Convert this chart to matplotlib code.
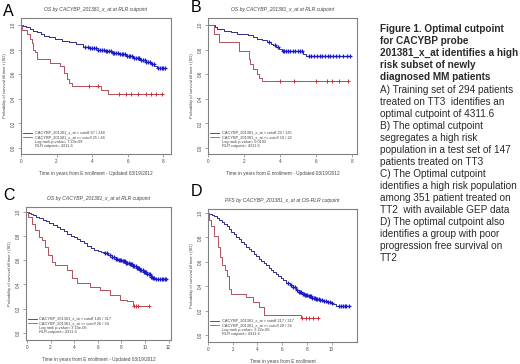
import numpy as np
import matplotlib
matplotlib.use("Agg")
import matplotlib.pyplot as plt

plt.rcParams['font.family'] = ['Liberation Sans', 'DejaVu Sans']

# ---------------- data ----------------
# Panel A
a_blue_t = [0.1, 0.3, 0.5, 0.7, 0.9, 1.1, 1.3, 1.6, 1.9, 2.3, 2.7, 3.1, 3.5, 3.9, 4.3, 4.7, 5.1, 5.5, 5.9, 6.3, 6.7, 7.0, 7.3, 7.5, 7.65]
a_blue_s = [0.99, 0.98, 0.97, 0.955, 0.94, 0.925, 0.91, 0.9, 0.885, 0.872, 0.86, 0.845, 0.825, 0.81, 0.797, 0.787, 0.775, 0.765, 0.752, 0.735, 0.718, 0.70, 0.685, 0.665, 0.648]
a_blue_end = 8.1
a_blue_cens = [3.6, 3.75, 3.9, 4.0, 4.1, 4.2, 4.35, 4.45, 4.55, 4.65, 4.75, 4.85, 4.95, 5.05, 5.15, 5.25, 5.35, 5.45, 5.55, 5.65, 5.75, 5.85, 5.95, 6.05, 6.15, 6.25, 6.35, 6.45, 6.55, 6.65, 6.75, 6.85, 6.95, 7.05, 7.15, 7.25, 7.35, 7.45, 7.7, 7.8, 7.9, 8.0, 8.1]
a_red_t = [0.05, 0.35, 0.5, 0.6, 0.7, 0.8, 0.9, 1.65, 2.2, 2.4, 2.6, 2.7, 2.85, 4.5, 4.9]
a_red_s = [0.96, 0.93, 0.89, 0.85, 0.80, 0.78, 0.72, 0.69, 0.67, 0.61, 0.56, 0.53, 0.50, 0.47, 0.435]
a_red_end = 7.9
a_red_cens = [3.8, 4.3, 5.5, 5.9, 6.2, 6.6, 7.0, 7.3, 7.6, 7.9]

# Panel B
b_blue_t = [0.4, 0.5, 0.9, 1.3, 1.6, 2.2, 2.5, 2.7, 3.0, 3.3, 3.5, 3.6, 3.8, 3.95, 4.1, 5.3, 5.45]
b_blue_s = [0.987, 0.965, 0.95, 0.94, 0.93, 0.915, 0.9, 0.89, 0.875, 0.86, 0.845, 0.835, 0.82, 0.805, 0.79, 0.765, 0.745]
b_blue_end = 7.9
b_blue_cens = [3.4, 3.7, 3.9, 4.15, 4.25, 4.35, 4.45, 4.55, 4.7, 4.85, 5.0, 5.1, 5.2, 5.6, 5.75, 5.9, 6.05, 6.2, 6.35, 6.5, 6.65, 6.8, 6.95, 7.1, 7.3, 7.5, 7.7, 7.9]
b_red_t = [0.35, 0.6, 1.7, 2.3, 2.35, 2.5, 2.7, 2.85, 3.0]
b_red_s = [0.93, 0.86, 0.79, 0.72, 0.68, 0.64, 0.60, 0.57, 0.545]
b_red_end = 7.8
b_red_cens = [4.0, 4.8, 6.0, 6.6, 6.9, 7.3, 7.8]

# Panel C
c_blue_t = [0.15, 0.35, 0.55, 0.8, 1.05, 1.35, 1.6, 1.9, 2.2, 2.5, 2.8, 3.1, 3.4, 3.7, 3.95, 4.2, 4.5, 4.8, 5.1, 5.4, 5.7, 6.0, 6.3, 6.6, 6.9, 7.2, 7.5, 7.8, 8.1, 8.4, 8.7, 9.0, 9.3, 9.6, 9.9, 10.2, 10.5, 10.7, 10.9]
c_blue_s = [0.99, 0.98, 0.97, 0.96, 0.945, 0.93, 0.92, 0.905, 0.89, 0.875, 0.858, 0.84, 0.82, 0.80, 0.788, 0.775, 0.755, 0.74, 0.72, 0.70, 0.688, 0.678, 0.668, 0.656, 0.64, 0.625, 0.612, 0.60, 0.59, 0.578, 0.565, 0.55, 0.535, 0.52, 0.50, 0.485, 0.465, 0.45, 0.445]
c_blue_end = 11.8
c_blue_cens = [6.6, 6.8, 7.0, 7.2, 7.35, 7.5, 7.65, 7.8, 7.9, 8.0, 8.1, 8.2, 8.3, 8.4, 8.5, 8.6, 8.7, 8.8, 8.9, 9.0, 9.1, 9.2, 9.3, 9.4, 9.5, 9.6, 9.7, 9.8, 9.9, 10.0, 10.1, 10.2, 10.3, 10.4, 10.5, 10.6, 10.7, 10.8, 10.95, 11.1, 11.25, 11.4, 11.55, 11.7, 11.8]
c_red_t = [0.1, 0.4, 0.7, 1.0, 1.24, 1.5, 1.8, 2.1, 2.4, 3.4, 3.8, 4.2, 5.3, 6.2, 7.0, 7.9, 8.45, 9.0]
c_red_s = [0.955, 0.90, 0.85, 0.79, 0.77, 0.71, 0.64, 0.587, 0.56, 0.52, 0.45, 0.41, 0.38, 0.355, 0.31, 0.27, 0.26, 0.22]
c_red_end = 10.3
c_red_cens = [9.1, 9.25, 9.4, 10.3]

# Panel D
d_blue_t = [0.1, 0.3, 0.5, 0.7, 0.9, 1.1, 1.3, 1.5, 1.7, 1.9, 2.1, 2.3, 2.5, 2.7, 2.9, 3.1, 3.3, 3.5, 3.7, 3.9, 4.1, 4.3, 4.5, 4.7, 4.9, 5.1, 5.3, 5.5, 5.7, 5.9, 6.1, 6.35, 6.6, 6.85, 7.1, 7.35, 7.6, 7.85, 8.1, 8.4, 8.7, 9.0, 9.3, 9.6, 9.9, 10.1, 10.4, 10.5]
d_blue_s = [0.995, 0.985, 0.972, 0.96, 0.945, 0.93, 0.912, 0.89, 0.868, 0.846, 0.826, 0.806, 0.786, 0.765, 0.745, 0.725, 0.705, 0.686, 0.667, 0.646, 0.625, 0.605, 0.587, 0.57, 0.553, 0.536, 0.52, 0.502, 0.485, 0.467, 0.45, 0.43, 0.41, 0.39, 0.37, 0.355, 0.34, 0.328, 0.316, 0.305, 0.296, 0.287, 0.277, 0.268, 0.26, 0.254, 0.24, 0.236]
d_blue_end = 11.4
d_blue_cens = [6.5, 6.7, 6.9, 7.05, 7.2, 7.35, 7.45, 7.55, 7.65, 7.75, 7.85, 7.95, 8.05, 8.15, 8.25, 8.35, 8.45, 8.55, 8.65, 8.75, 8.85, 8.95, 9.1, 9.25, 9.4, 9.55, 9.7, 9.85, 10.0, 10.6, 10.75, 10.9, 11.05, 11.2, 11.4]
d_red_t = [0.1, 0.25, 0.45, 0.8, 0.95, 1.1, 1.4, 1.5, 1.7, 1.9, 3.1, 3.67, 4.1, 4.5, 7.5]
d_red_s = [0.94, 0.89, 0.81, 0.72, 0.64, 0.57, 0.53, 0.48, 0.38, 0.34, 0.31, 0.27, 0.23, 0.165, 0.137]
d_red_end = 8.9
d_red_cens = [7.6, 7.9, 8.2, 8.5, 8.9]

panel_letters = ['A', 'B', 'C', 'D']
titles = ['OS by CACYBP_201381_x_at at RLR cutpoint',
          'OS by CACYBP_201381_x_at at RLR cutpoint',
          'OS by CACYBP_201381_x_at at RLR cutpoint',
          'PFS by CACYBP_201381_x_at at OS-RLR cutpoint']
xlabels = ['Time in years from E nrollment - Updated 03/19/2012',
           'Time in years from E nrollment - Updated 03/19/2012',
           'Time in years from E nrollment - Updated 03/19/2012',
           'Time in years from E nrollment']
ylabel = 'Probability of survival till time t (SD)'
legend_low = ['CACYBP_201381_x_at < cutoff 67 / 248', 'CACYBP_201381_x_at < cutoff 29 / 125',
              'CACYBP_201381_x_at < cutoff 145 / 317', 'CACYBP_201381_x_at < cutoff 217 / 317']
legend_high = ['CACYBP_201381_x_at >= cutoff 25 / 46', 'CACYBP_201381_x_at >= cutoff 10 / 22',
               'CACYBP_201381_x_at >= cutoff 26 / 34', 'CACYBP_201381_x_at >= cutoff 28 / 34']
pvals = ['Log rank p-value= 7.23e-09', 'Log rank p-value= 0.0102',
         'Log rank p-value= 3.10e-06', 'Log rank p-value= 2.22e-06']
cutpoint = 'RLR cutpoint= 4311.6'
xticks_list = [[0, 2, 4, 6, 8], [0, 2, 4, 6, 8], [0, 2, 4, 6, 8, 10, 12], [0, 2, 4, 6, 8, 10]]
yticks = [0.0, 0.2, 0.4, 0.6, 0.8, 1.0]

caption_bold = ['Figure 1. Optimal cutpoint', 'for CACYBP probe',
                '201381_x_at identifies a high', 'risk subset of newly',
                'diagnosed MM patients']
caption_regular = ['A) Training set of 294 patients', 'treated on TT3  identifies an',
                   'optimal cutpoint of 4311.6', 'B) The optimal cutpoint',
                   'segregates a high risk', 'population in a test set of 147',
                   'patients treated on TT3', 'C) The Optimal cutpoint',
                   'identifies a high risk population', 'among 351 patient treated on',
                   'TT2  with available GEP data', 'D) The optimal cutpoint also',
                   'identifies a group with poor', 'progression free survival on', 'TT2']

panels = [
    (a_blue_t, a_blue_s, a_blue_end, a_blue_cens, a_red_t, a_red_s, a_red_end, a_red_cens),
    (b_blue_t, b_blue_s, b_blue_end, b_blue_cens, b_red_t, b_red_s, b_red_end, b_red_cens),
    (c_blue_t, c_blue_s, c_blue_end, c_blue_cens, c_red_t, c_red_s, c_red_end, c_red_cens),
    (d_blue_t, d_blue_s, d_blue_end, d_blue_cens, d_red_t, d_red_s, d_red_end, d_red_cens),
]

# ---------------- layout ----------------
W, H = 520, 364
fig = plt.figure(figsize=(W / 100, H / 100), dpi=100)
fig.patch.set_facecolor('white')

# axes boxes in pixels: (left, top, right, bottom)
boxes = [(21, 18, 171, 154), (208, 18, 357, 154), (26, 207, 171, 340), (208, 209, 357, 342)]
xlims = [(0, 8.43), (0, 8.28), (-0.085, 12.2), (0, 12.06)]
ylims = [(-0.049, 1.057), (-0.049, 1.057), (-0.058, 1.039), (-0.057, 1.033)]
letter_pos = [(3, 11), (191, 8), (3, 195), (191, 192)]
# legend rows: pixels above the bottom of the box
legend_rows_px = [21.3, 17.0, 12.4, 8.3]

blue_line = '#2e2e86'
blue_mark = '#1a1ac8'
red_line = '#b0505a'
red_mark = '#d03040'
frame_col = '#808080'
text_col = '#444444'


def km_xy(times, surv, end):
    x = [0.0] + list(times) + [end]
    y = [1.0] + list(surv) + [surv[-1]]
    return np.array(x), np.array(y)


def surv_at(times, surv, t):
    tt = np.array([0.0] + list(times))
    ss = np.array([1.0] + list(surv))
    idx = np.searchsorted(tt, np.asarray(t), side='right') - 1
    return ss[idx]


for i, (bt, bs, bend, bc, rt, rs, rend, rc) in enumerate(panels):
    l, t, r, b = boxes[i]
    ax = fig.add_axes([l / W, 1 - b / H, (r - l) / W, (b - t) / H])
    ax.set_xlim(*xlims[i])
    ax.set_ylim(*ylims[i])

    x, y = km_xy(bt, bs, bend)
    ax.step(x, y, where='post', color=blue_line, lw=0.7)
    ax.plot(bc, surv_at(bt, bs, bc), ls='none', marker='+', ms=2.6, mew=0.9, color=blue_mark)
    x, y = km_xy(rt, rs, rend)
    ax.step(x, y, where='post', color=red_line, lw=0.7)
    ax.plot(rc, surv_at(rt, rs, rc), ls='none', marker='+', ms=2.6, mew=0.7, color=red_mark)

    for sp in ax.spines.values():
        sp.set_color(frame_col)
        sp.set_linewidth(0.8)
    ax.set_xticks(xticks_list[i])
    ax.set_yticks(yticks)
    ax.set_xticklabels([str(v) for v in xticks_list[i]])
    ax.set_yticklabels(['%.1f' % v for v in yticks], rotation=90, va='center')
    ax.tick_params(length=2, width=0.5, color=frame_col, labelsize=3.3,
                   labelcolor=text_col, pad=1.5)

    ax.set_title(titles[i], fontsize=3.6, style='italic', color=text_col, pad=5)
    ax.set_xlabel(xlabels[i], fontsize=3.4, color=text_col, labelpad=5)
    ax.set_ylabel(ylabel, fontsize=3.0, color=text_col, labelpad=3)

    # legend block
    tr = ax.transAxes
    hpx = b - t
    rows = [v / hpx for v in legend_rows_px]
    ax.plot([0.015, 0.073], [rows[0], rows[0]], transform=tr, color=blue_line, lw=0.6)
    ax.plot([0.015, 0.073], [rows[1], rows[1]], transform=tr, color=red_line, lw=0.6)
    for txt, yy in zip([legend_low[i], legend_high[i], pvals[i], cutpoint], rows):
        ax.text(0.093, yy, txt, transform=tr, fontsize=2.8, color=text_col, va='center')

    fig.text(letter_pos[i][0] / W, 1 - letter_pos[i][1] / H, panel_letters[i],
             fontsize=11.5, color='black', va='center', ha='left')

# caption text
y0 = 29.3
dy = 12.05
for k, line in enumerate(caption_bold + caption_regular):
    bold = k < len(caption_bold)
    fig.text(380 / W, 1 - (y0 + k * dy) / H, line, fontsize=7.2,
             fontweight='bold' if bold else 'normal', color='#2a2a2a',
             va='center', ha='left')

fig.savefig('out.png', dpi=100, facecolor='white')
